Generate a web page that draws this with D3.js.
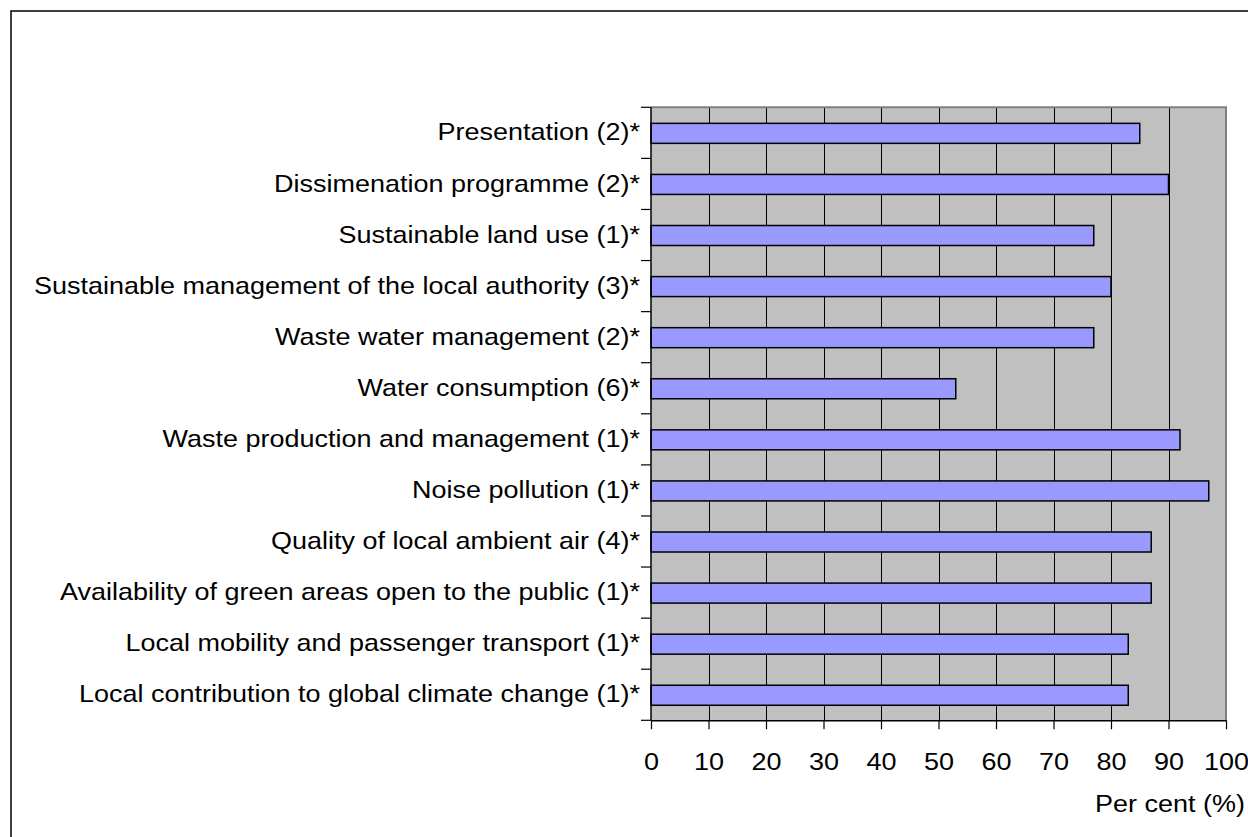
<!DOCTYPE html>
<html>
<head>
<meta charset="utf-8">
<script src="https://cdn.jsdelivr.net/npm/d3@7"></script>
<style>
  html, body { margin: 0; padding: 0; background: #fff; }
  svg { display: block; }
  text { font-family: "Liberation Sans", Arial, sans-serif; fill: #000; }
</style>
</head>
<body>
<svg id="chart" width="1248" height="837"></svg>
<script>
// Themes, listed top to bottom as shown
const categories = [
  "Presentation (2)*",
  "Dissimenation programme (2)*",
  "Sustainable land use (1)*",
  "Sustainable management of the local authority (3)*",
  "Waste water management (2)*",
  "Water consumption (6)*",
  "Waste production and management (1)*",
  "Noise pollution (1)*",
  "Quality of local ambient air (4)*",
  "Availability of green areas open to the public (1)*",
  "Local mobility and passenger transport (1)*",
  "Local contribution to global climate change (1)*"
];
const values = [85, 90, 77, 80, 77, 53, 92, 97, 87, 87, 83, 83];
const xTicks = [0, 10, 20, 30, 40, 50, 60, 70, 80, 90, 100];
const xTitle = "Per cent (%)";

const svg = d3.select("#chart");
const fontSize = 24;
const stretch = 1.125; // wide text face

// Outer chart frame (runs off the right and bottom edges)
svg.append("rect")
  .attr("x", 11).attr("y", 11)
  .attr("width", 1260).attr("height", 860)
  .attr("fill", "#fff").attr("stroke", "#000").attr("stroke-width", 1.5);

const plot = { left: 651, right: 1226, top: 107.3, bottom: 720.3 };

const x = d3.scaleLinear().domain([0, 100]).range([plot.left, plot.right]);
const y = d3.scaleBand().domain(categories).range([plot.top, plot.bottom]).paddingInner(0).paddingOuter(0);

// Plot background
svg.append("rect")
  .attr("x", plot.left).attr("y", plot.top)
  .attr("width", plot.right - plot.left).attr("height", plot.bottom - plot.top)
  .attr("fill", "#c0c0c0");

// Vertical gridlines
svg.append("g")
  .selectAll("line")
  .data(xTicks.filter(d => d > 0 && d < 100))
  .join("line")
  .attr("x1", d => Math.round(x(d)) + 0.5).attr("x2", d => Math.round(x(d)) + 0.5)
  .attr("y1", plot.top).attr("y2", plot.bottom)
  .attr("stroke", "#000").attr("stroke-width", 1);

// Plot frame: grey top and right edges
svg.append("path")
  .attr("d", `M${plot.left},${plot.top}H${plot.right}V${plot.bottom}`)
  .attr("fill", "none").attr("stroke", "#808080").attr("stroke-width", 2);

// Bars
const barH = 20;
svg.append("g")
  .selectAll("rect")
  .data(categories.map((c, i) => ({ c, v: values[i] })))
  .join("rect")
  .attr("x", x(0))
  .attr("y", d => y(d.c) + y.bandwidth() / 2 - barH / 2 + 0.5)
  .attr("width", d => x(d.v) - x(0))
  .attr("height", barH)
  .attr("fill", "#9999ff")
  .attr("stroke", "#000").attr("stroke-width", 1.5);

// Y axis: line, ticks at category boundaries, labels
const yAxis = svg.append("g");
yAxis.append("line")
  .attr("x1", plot.left).attr("x2", plot.left)
  .attr("y1", plot.top).attr("y2", plot.bottom)
  .attr("stroke", "#000").attr("stroke-width", 1.5);
const bounds = categories.map(c => y(c)).concat([plot.bottom]);
yAxis.selectAll("line.tick")
  .data(bounds)
  .join("line")
  .attr("class", "tick")
  .attr("x1", plot.left - 10).attr("x2", plot.left)
  .attr("y1", d => d).attr("y2", d => d)
  .attr("stroke", "#000").attr("stroke-width", 1.2);
yAxis.selectAll("text")
  .data(categories)
  .join("text")
  .attr("transform", d => `translate(${plot.left - 11},${y(d) + y.bandwidth() / 2 + 7.6}) scale(${stretch},1)`)
  .attr("text-anchor", "end")
  .attr("font-size", fontSize)
  .text(d => d);

// X axis
const xAxis = svg.append("g")
  .attr("transform", `translate(0,${plot.bottom})`)
  .call(d3.axisBottom(x).tickValues(xTicks).tickSize(9).tickPadding(0).tickSizeOuter(0));
xAxis.select(".domain").attr("stroke", "#000").attr("stroke-width", 1.5);
xAxis.selectAll(".tick line").attr("stroke", "#000").attr("stroke-width", 1.2);
xAxis.selectAll(".tick text")
  .attr("y", null)
  .attr("dy", null)
  .attr("transform", `translate(0,50) scale(${stretch},1)`)
  .attr("font-size", fontSize)
  .attr("font-family", "Liberation Sans, Arial, sans-serif")
  .attr("fill", "#000");

// Axis title
svg.append("text")
  .attr("transform", `translate(1245,812) scale(${stretch},1)`)
  .attr("text-anchor", "end")
  .attr("font-size", fontSize)
  .text(xTitle);
</script>
</body>
</html>
